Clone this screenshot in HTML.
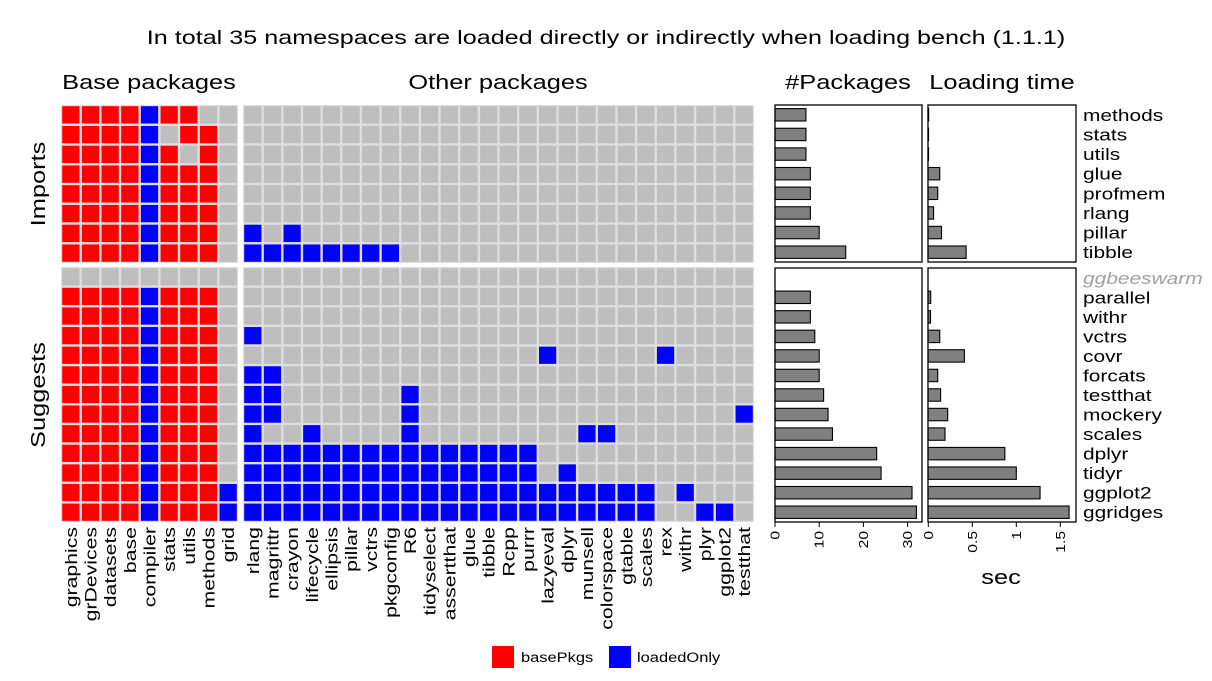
<!DOCTYPE html>
<html><head><meta charset="utf-8"><style>
html,body{margin:0;padding:0;background:#fff;}
svg{display:block;font-family:"Liberation Sans",Arial,sans-serif;}
</style></head><body>
<svg id="chart" width="1212" height="681" viewBox="0 0 1212 681" xmlns="http://www.w3.org/2000/svg">
<text transform="translate(606,44) scale(1.29,1)" text-anchor="middle" font-size="19.5">In total 35 namespaces are loaded directly or indirectly when loading bench (1.1.1)</text>
<text transform="translate(149,89) scale(1.27,1)" text-anchor="middle" font-size="20">Base packages</text>
<text transform="translate(498,89) scale(1.27,1)" text-anchor="middle" font-size="20">Other packages</text>
<text transform="translate(848,89) scale(1.27,1)" text-anchor="middle" font-size="20">#Packages</text>
<text transform="translate(1002,89) scale(1.27,1)" text-anchor="middle" font-size="20">Loading time</text>
<text transform="translate(45,184) rotate(-90) scale(1.27,1)" text-anchor="middle" font-size="20">Imports</text>
<text transform="translate(45,395) rotate(-90) scale(1.27,1)" text-anchor="middle" font-size="20">Suggests</text>
<text transform="translate(1001,584) scale(1.27,1)" text-anchor="middle" font-size="20">sec</text>
<g>
<rect x="492" y="646" width="22" height="22" fill="#ff0000"/>
<text transform="translate(521,662) scale(1.22,1)" font-size="13.5">basePkgs</text>
<rect x="609" y="646" width="22" height="22" fill="#0000ff"/>
<text transform="translate(637,662) scale(1.22,1)" font-size="13.5">loadedOnly</text>
</g>
</svg>
<script>
const basePkgs = ["graphics","grDevices","datasets","base","compiler","stats","utils","methods","grid"];
const otherPkgs = ["rlang","magrittr","crayon","lifecycle","ellipsis","pillar","vctrs","pkgconfig","R6","tidyselect","assertthat","glue","tibble","Rcpp","purrr","lazyeval","dplyr","munsell","colorspace","gtable","scales","rex","withr","plyr","ggplot2","testthat"];
const importPkgs = ["methods","stats","utils","glue","profmem","rlang","pillar","tibble"];
const suggestPkgs = ["ggbeeswarm","parallel","withr","vctrs","covr","forcats","testthat","mockery","scales","dplyr","tidyr","ggplot2","ggridges"];
// base matrix: R=basePkgs, B=loadedOnly, G=not loaded
const importBase = ["RRRRBRRGG","RRRRBGRRG","RRRRBRGRG","RRRRBRRRG","RRRRBRRRG","RRRRBRRRG","RRRRBRRRG","RRRRBRRRG"];
const suggestBase = ["GGGGGGGGG","RRRRBRRRG","RRRRBRRRG","RRRRBRRRG","RRRRBRRRG","RRRRBRRRG","RRRRBRRRG","RRRRBRRRG","RRRRBRRRG","RRRRBRRRG","RRRRBRRRG","RRRRBRRRB","RRRRBRRRB"];
// other packages loaded (column indices) per row
const importOther = [[],[],[],[],[],[],[0,2],[0,1,2,3,4,5,6,7]];
const suggestOther = [[],[],[],[0],[15,21],[0,1],[0,1,8],[0,1,8,25],[0,3,8,17,18],
  [0,1,2,3,4,5,6,7,8,9,10,11,12,13,14],[0,1,2,3,4,5,6,7,8,9,10,11,12,13,14,16],
  [0,1,2,3,4,5,6,7,8,9,10,11,12,13,14,15,16,17,18,19,20,22],
  [0,1,2,3,4,5,6,7,8,9,10,11,12,13,14,15,16,17,18,19,20,23,24]];
const importCount = [7,7,7,8,8,8,10,16];
const suggestCount = [null,8,8,9,10,10,11,12,13,23,24,31,32];
const importTime = [0.004,0.003,0.003,0.13,0.107,0.06,0.15,0.43];
const suggestTime = [null,0.027,0.025,0.13,0.41,0.107,0.14,0.22,0.19,0.87,1.0,1.27,1.6];
const countTicks = [0,10,20,30];
const timeTicks = [0,0.5,1,1.5];
const timeTickLabels = ["0","0.5","1","1.5"];

const NS="http://www.w3.org/2000/svg";
const svg=document.getElementById('chart');
function mk(tag,attrs,parent){const e=document.createElementNS(NS,tag);for(const k in attrs)e.setAttribute(k,attrs[k]);(parent||svg).appendChild(e);return e;}
const COL={R:"#ff0000",B:"#0000ff",G:"#bebebe"};
const panelsY={imp:[105,263],sug:[267,522]};
const baseX=[61,238], otherX=[243,754];
function grid(x0,x1,y0,y1,ncol,nrow,colorFn,name){
  const g=mk('g',{});
  
  
  mk('rect',{x:x0,y:y0,width:x1-x0,height:y1-y0,fill:"#dedede"},g);
  const cw=(x1-x0)/ncol, rh=(y1-y0)/nrow;
  for(let r=0;r<nrow;r++)for(let c=0;c<ncol;c++){
    const cell=mk('rect',{x:(x0+c*cw+1.2).toFixed(2),y:(y0+r*rh+1.2).toFixed(2),width:(cw-2.4).toFixed(2),height:(rh-2.4).toFixed(2),fill:COL[colorFn(r,c)]},g);
    
    
  }
}
grid(baseX[0],baseX[1],panelsY.imp[0],panelsY.imp[1],basePkgs.length,importPkgs.length,(r,c)=>importBase[r][c],'grid-base-imports');
grid(baseX[0],baseX[1],panelsY.sug[0],panelsY.sug[1],basePkgs.length,suggestPkgs.length,(r,c)=>suggestBase[r][c],'grid-base-suggests');
grid(otherX[0],otherX[1],panelsY.imp[0],panelsY.imp[1],otherPkgs.length,importPkgs.length,(r,c)=>importOther[r].includes(c)?"B":"G",'grid-other-imports');
grid(otherX[0],otherX[1],panelsY.sug[0],panelsY.sug[1],otherPkgs.length,suggestPkgs.length,(r,c)=>suggestOther[r].includes(c)?"B":"G",'grid-other-suggests');

function colLabels(x0,x1,labels){
  const cw=(x1-x0)/labels.length;
  labels.forEach((l,i)=>{
    const cx=x0+(i+0.5)*cw+6;
    const t=mk('text',{transform:`translate(${cx.toFixed(1)},527) rotate(-90) scale(1.25,1)`,'text-anchor':'end','font-size':17});
    t.textContent=l;
    
    
  });
}
colLabels(baseX[0],baseX[1],basePkgs);
colLabels(otherX[0],otherX[1],otherPkgs);

const countX=[775,922], timeX=[928,1076];
const cScale=v=>775+v*4.42;
const tScale=v=>928.3+v*88;
function barPanel(x0,x1,y0,y1,vals,scale,name){
  const n=vals.length, rh=(y1-y0)/n;
  vals.forEach((v,i)=>{
    if(v==null)return;
    const b=mk('rect',{x:x0,y:(y0+i*rh+rh/2-6.2).toFixed(2),width:Math.max(0.5,scale(v)-x0).toFixed(2),height:12.4,fill:"#808080",stroke:"#000","stroke-width":1.1});
    
    
  });
  const f=mk('rect',{x:x0,y:y0,width:x1-x0,height:y1-y0,fill:"none",stroke:"#000","stroke-width":1.3});
  
  
}
barPanel(countX[0],countX[1],105,262,importCount,cScale,'panel-count-imports');
barPanel(countX[0],countX[1],268,522,suggestCount,cScale,'panel-count-suggests');
barPanel(timeX[0],timeX[1],105,262,importTime,tScale,'panel-time-imports');
barPanel(timeX[0],timeX[1],268,522,suggestTime,tScale,'panel-time-suggests');

function axis(ticks,labels,scale){
  ticks.forEach((v,i)=>{
    const x=scale(v);
    mk('line',{x1:x,x2:x,y1:522,y2:527,stroke:"#000","stroke-width":1});
    const t=mk('text',{transform:`translate(${(x+4.5).toFixed(1)},531) rotate(-90) scale(1.25,1)`,'text-anchor':'end','font-size':12.5});
    t.textContent=labels[i];
    
    
  });
}
axis(countTicks,countTicks.map(String),cScale);
axis(timeTicks,timeTickLabels,tScale);

function rowLabels(y0,y1,labels){
  const rh=(y1-y0)/labels.length;
  labels.forEach((l,i)=>{
    const t=mk('text',{transform:`translate(1083,${(y0+(i+0.5)*rh+6).toFixed(1)}) scale(1.23,1)`,'font-size':17});
    if(l==='ggbeeswarm'){t.setAttribute('fill','#a0a0a0');t.setAttribute('font-style','italic');}
    t.textContent=l;
    
    
  });
}
rowLabels(105,262,importPkgs);
rowLabels(268,522,suggestPkgs);
</script>
</body></html>
